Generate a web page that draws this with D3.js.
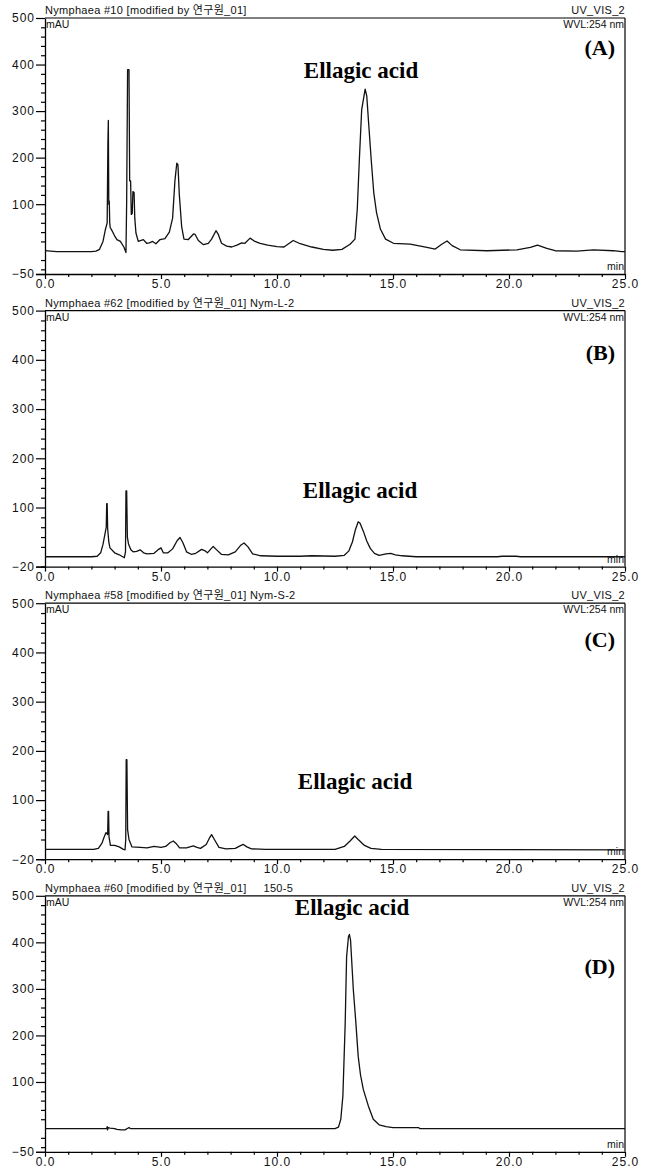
<!DOCTYPE html>
<html><head><meta charset="utf-8">
<script src="https://cdn.jsdelivr.net/npm/d3@7"></script>
<style>body{margin:0;background:#fff}svg{display:block}</style>
</head><body>
<script>
// ---------- data ----------
const panelTitles = [
  "Nymphaea #10 [modified by 연구원_01]",
  "Nymphaea #62 [modified by 연구원_01] Nym-L-2",
  "Nymphaea #58 [modified by 연구원_01] Nym-S-2",
  "Nymphaea #60 [modified by 연구원_01]     150-5"
];
const panelTags = ["(A)", "(B)", "(C)", "(D)"];
const peakName = "Ellagic acid";
const channelName = "UV_VIS_2";
const wavelengthLabel = "WVL:254 nm";
const yUnit = "mAU";
const xUnit = "min";
const yMins = [-50, -20, -20, -50];
const yMax = 500;
const yMajorTicks = [100, 200, 300, 400, 500];
const xMajorTicks = [0, 5, 10, 15, 20, 25];

const timeA = [0,0.5,1.0,1.5,2.0,2.2,2.35,2.5,2.6,2.68,2.71,2.73,2.75,2.77,2.79,2.81,2.9,3.0,3.1,3.25,3.4,3.49,3.52,3.56,3.62,3.65,3.69,3.72,3.76,3.79,3.84,3.87,3.92,4.02,4.24,4.38,4.5,4.64,4.78,4.96,5.17,5.36,5.5,5.6,5.68,5.73,5.79,5.89,5.99,6.18,6.4,6.47,6.61,6.83,7.04,7.18,7.37,7.47,7.61,7.83,8.05,8.27,8.48,8.62,8.84,9.05,9.27,9.6,10.0,10.3,10.7,11.0,11.5,12.0,12.4,12.8,13.15,13.36,13.46,13.55,13.65,13.8,13.87,13.96,14.06,14.17,14.29,14.46,14.68,15.02,15.74,16.46,16.82,17.1,17.33,17.55,17.9,19.05,20.34,20.92,21.23,21.63,21.99,22.92,23.64,24.5,24.86,25];
const signalA = [0,-2,-2,-2,-2,-1,3,20,45,60,228,280,100,107,60,50,42,32,24,20,8,-4,105,389,389,150,150,78,80,127,125,70,38,20,24,16,17,20,15,24,26,40,70,150,188,185,120,52,25,24,36,35,22,13,16,25,43,35,16,10,8,12,17,16,27,20,16,12,9,8,22,15,8,3,1,3,14,25,89,196,303,347,332,267,196,125,82,46,25,16,14,7,3.5,14,21,11,2,0,2,7,12,5,0,-1,2,0,-2,-2];

const timeB = [0,2.0,2.25,2.4,2.5,2.6,2.64,2.66,2.68,2.7,2.75,2.8,3.0,3.2,3.35,3.42,3.47,3.49,3.52,3.55,3.6,3.7,3.8,3.95,4.1,4.25,4.4,4.7,4.9,5.0,5.1,5.3,5.5,5.7,5.82,5.95,6.1,6.3,6.5,6.75,6.9,7.0,7.25,7.4,7.6,7.9,8.2,8.45,8.58,8.75,8.95,9.3,10.0,11.0,11.5,12.5,12.9,13.1,13.25,13.38,13.5,13.58,13.72,13.87,14.02,14.2,14.4,14.7,14.9,15.1,15.4,16.0,19.5,19.7,20.3,20.5,25];
const signalB = [0,0,1,8,25,50,60,108,108,58,30,18,8,4,0,-2,10,134,134,40,26,14,10,11,14,8,6,7,15,18,8,8,16,33,39,28,10,5,7,15,12,8,21,14,5,4,10,24,28,20,6,2,1,1,2,1,3,12,30,55,71,68,52,32,17,7,3,6,7,4,2,0,0,1,1,0,0];

const timeC = [0,2.1,2.3,2.45,2.55,2.63,2.7,2.72,2.74,2.76,2.82,3.0,3.2,3.38,3.45,3.48,3.5,3.53,3.56,3.62,3.75,4.1,4.4,4.7,4.85,5.0,5.2,5.4,5.53,5.65,5.8,6.1,6.39,6.55,6.7,6.95,7.1,7.18,7.3,7.5,7.8,8.2,8.45,8.55,8.7,8.9,9.5,12.5,12.9,13.15,13.35,13.5,13.77,14.05,14.5,25];
const signalC = [0,0,2,12,25,34,30,77,77,25,8,8,5,0,-1,20,182,182,40,20,5,4,3,6,5,4,6,14,17,12,3,3,7,4,2,10,24,30,20,4,1,2,8,10,5,1,0,0,6,17,27,20,8,2,0,-1];

const timeD = [0,2.6,2.66,2.68,2.7,2.72,2.8,3.0,3.1,3.3,3.45,3.55,3.62,3.68,12.5,12.65,12.75,12.84,12.94,13.0,13.08,13.12,13.17,13.29,13.4,13.5,13.6,13.72,13.94,14.15,14.4,14.7,15.0,16.1,16.15,25];
const signalD = [0,0,0,4,-3,2,1,0,-2,-3,-3,0,2,0,0,3,20,70,227,369,412,417,405,298,227,155,115,84,48,20,8,4,2,2,0,0];

const times = [timeA, timeB, timeC, timeD];
const signals = [signalA, signalB, signalC, signalD];

// ---------- layout ----------
const W = 650, H = 1171;
const left = 45, right = 625;
const panelTop0 = 18, panelStep = 292.6, plotH = 256;
const tagBaseline = [37, 49, 44, 78];
const tagRight = 615;
const nameBaseline = [60, 187, 186, 19];
const nameX = [361, 360, 355, 352];

const svg = d3.select("body").append("svg").attr("width", W).attr("height", H);
const sans = "'Liberation Sans', Arial, 'Noto Sans CJK KR', sans-serif";
const serif = "'Liberation Serif', 'Times New Roman', serif";

const x = d3.scaleLinear().domain([0, 25]).range([left, right]);

for (let i = 0; i < 4; i++) {
  const top = panelTop0 + i * panelStep;
  const bottom = top + plotH;
  const y = d3.scaleLinear().domain([yMins[i], yMax]).range([bottom, top]);
  const g = svg.append("g");

  // frame top & right
  g.append("line").attr("x1", left).attr("x2", right).attr("y1", top).attr("y2", top)
    .attr("stroke", "#000").attr("stroke-width", 1.2);
  g.append("line").attr("x1", right).attr("x2", right).attr("y1", top).attr("y2", bottom)
    .attr("stroke", "#000").attr("stroke-width", 1.2);

  // x axis minor
  const xMinor = d3.range(0, 26, 1).filter(v => v % 5 !== 0);
  g.append("g").attr("transform", `translate(0,${bottom})`)
    .call(d3.axisBottom(x).tickValues(xMinor).tickSize(3).tickFormat(""))
    .call(a => a.select(".domain").remove())
    .selectAll("line").attr("stroke", "#000").attr("stroke-width", 1.2);
  // x axis major
  const xa = g.append("g").attr("transform", `translate(0,${bottom})`)
    .call(d3.axisBottom(x).tickValues(xMajorTicks).tickSize(5).tickSizeOuter(0).tickFormat(d3.format(".1f")));
  xa.select(".domain").attr("stroke", "#000").attr("stroke-width", 1.3);
  xa.selectAll("line").attr("stroke", "#000").attr("stroke-width", 1.2);
  xa.selectAll("text").attr("font-family", sans).attr("font-size", 12).attr("fill", "#111")
    .attr("dy", "0.5em").style("letter-spacing", "1px");
  xa.select(".domain").attr("d", `M${left - 9},0.5H${right}`);

  // y axis minor
  const yMinor = d3.range(-40, 501, 20).filter(v => v >= yMins[i] && v % 100 !== 0);
  g.append("g").attr("transform", `translate(${left},0)`)
    .call(d3.axisLeft(y).tickValues(yMinor).tickSize(4).tickFormat(""))
    .call(a => a.select(".domain").remove())
    .selectAll("line").attr("stroke", "#000").attr("stroke-width", 1.2).attr("x2", -4).attr("x1", 1);
  // y axis major
  const ya = g.append("g").attr("transform", `translate(${left},0)`)
    .call(d3.axisLeft(y).tickValues([yMins[i]].concat(yMajorTicks)).tickSize(9).tickSizeOuter(0));
  ya.select(".domain").attr("stroke", "#000").attr("stroke-width", 1.3);
  ya.selectAll("line").attr("stroke", "#000").attr("stroke-width", 1.2);
  ya.selectAll("text").attr("font-family", sans).attr("font-size", 12).attr("fill", "#111")
    .attr("x", -10).style("letter-spacing", "1px");

  // trace
  const pts = times[i].map((t, k) => [t, signals[i][k]]);
  g.append("path").datum(pts)
    .attr("fill", "none").attr("stroke", "#111").attr("stroke-width", 1.3)
    .attr("stroke-linejoin", "round")
    .attr("d", d3.line().x(d => x(d[0])).y(d => y(d[1])));

  // header texts
  g.append("text").attr("x", left).attr("y", top - 4).text(panelTitles[i])
    .attr("font-family", sans).attr("font-size", 11).attr("fill", "#111")
    .style("letter-spacing", "0.3px").style("white-space", "pre");
  g.append("text").attr("x", right).attr("y", top - 4).attr("text-anchor", "end").text(channelName)
    .attr("font-family", sans).attr("font-size", 11).attr("fill", "#111").style("letter-spacing", "0.3px");
  g.append("text").attr("x", left + 1).attr("y", top + 10).text(yUnit)
    .attr("font-family", sans).attr("font-size", 10.5).attr("fill", "#111");
  g.append("text").attr("x", right - 1).attr("y", top + 10).attr("text-anchor", "end").text(wavelengthLabel)
    .attr("font-family", sans).attr("font-size", 10.5).attr("fill", "#111");
  g.append("text").attr("x", right - 1).attr("y", bottom - 4).attr("text-anchor", "end").text(xUnit)
    .attr("font-family", sans).attr("font-size", 10.5).attr("fill", "#111");

  // annotations
  g.append("text").attr("x", tagRight).attr("y", top + tagBaseline[i]).attr("text-anchor", "end")
    .text(panelTags[i]).attr("font-family", serif).attr("font-weight", "bold").attr("font-size", 22).attr("fill", "#000");
  g.append("text").attr("x", nameX[i]).attr("y", top + nameBaseline[i]).attr("text-anchor", "middle")
    .text(peakName).attr("font-family", serif).attr("font-weight", "bold").attr("font-size", 23).attr("fill", "#000");
}
</script>
</body></html>
